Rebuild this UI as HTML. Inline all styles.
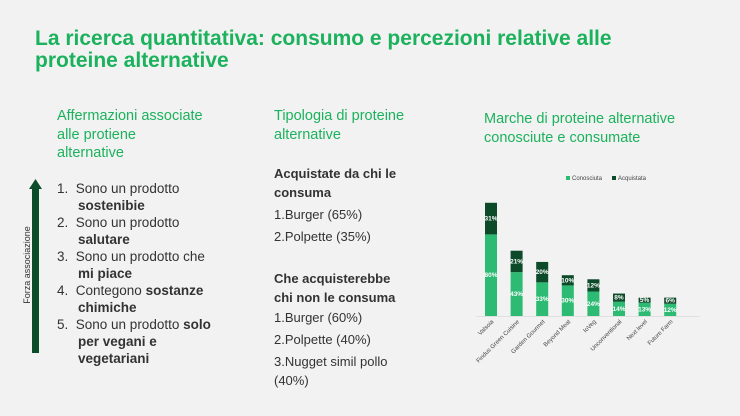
<!DOCTYPE html>
<html><head><meta charset="utf-8"><style>
body{margin:0;width:740px;height:416px;background:#f2f2f2;font-family:"Liberation Sans","DejaVu Sans",sans-serif;position:relative;overflow:hidden}
.a{position:absolute;white-space:nowrap}
.t{color:#1cb25d;font-weight:bold;font-size:21px;left:35px;line-height:22px}
.g{color:#1cb25d;font-size:14.5px;line-height:18.5px}
.k{color:#333;font-size:13.5px;line-height:17px}
.m{color:#333;font-size:13px;line-height:19px}
</style></head><body>
<div class="a t" style="top:28px">La ricerca quantitativa: consumo e percezioni relative alle<br>proteine alternative</div>
<div class="a g" style="left:57px;top:107px">Affermazioni associate<br>alle protiene<br>alternative</div>
<div class="a k" style="left:57px;top:180px">
<div>1.&nbsp;&nbsp;Sono un prodotto<br><span style="margin-left:21px;font-weight:bold">sostenibie</span></div>
<div>2.&nbsp;&nbsp;Sono un prodotto<br><span style="margin-left:21px;font-weight:bold">salutare</span></div>
<div>3.&nbsp;&nbsp;Sono un prodotto che<br><span style="margin-left:21px;font-weight:bold">mi piace</span></div>
<div>4.&nbsp;&nbsp;Contegono <b>sostanze</b><br><span style="margin-left:21px;font-weight:bold">chimiche</span></div>
<div>5.&nbsp;&nbsp;Sono un prodotto <b>solo</b><br><span style="margin-left:21px;font-weight:bold">per vegani e</span><br><span style="margin-left:21px;font-weight:bold">vegetariani</span></div>
</div>
<svg class="a" style="left:0;top:0" width="740" height="416">
<rect x="32" y="188" width="7" height="165" fill="#0b4d2a"/>
<polygon points="29,189 35.5,179 42,189" fill="#0b4d2a"/>
<text transform="translate(30,265) rotate(-90)" text-anchor="middle" font-size="9" fill="#333" font-family="Liberation Sans,sans-serif">Forza associazione</text>
</svg>
<div class="a g" style="left:274px;top:107px">Tipologia di proteine<br>alternative</div>
<div class="a m" style="left:274px;top:164px">
<b>Acquistate da chi le<br>consuma</b><div style="height:3px"></div>1.Burger (65%)<div style="height:3px"></div>2.Polpette (35%)<div style="height:23px"></div>
<b>Che acquisterebbe<br>chi non le consuma</b><div style="height:1px"></div>1.Burger (60%)<div style="height:3px"></div>2.Polpette (40%)<div style="height:3px"></div>3.Nugget simil pollo<br>(40%)</div>
<div class="a g" style="left:484px;top:110px">Marche di proteine alternative<br>conosciute e consumate</div>
<svg id="ch" class="a" style="left:0;top:0" width="740" height="416"></svg>
<script>
const brands=["Valsoia","Findus Green Cuisine","Garden Gourmet","Beyond Meat","IoVeg","Unconventional","Next level","Future Farm"];
const known=[80,43,33,30,24,14,13,12];
const bought=[31,21,20,10,12,8,5,6];
const svg=document.getElementById('ch');const NS='http://www.w3.org/2000/svg';
const base=316,k=1.02,x0=491,step=25.6,w=12;
const y=v=>v*k;
function el(t,a,p){const e=document.createElementNS(NS,t);for(const n in a)e.setAttribute(n,a[n]);(p||svg).appendChild(e);return e}
const ax=el('line',{x1:476,x2:700,y1:base+0.5,y2:base+0.5,stroke:'#e0e0e0'});


brands.forEach((b,i)=>{const cx=x0+i*step;
const h1=y(known[i]),h2=y(bought[i]);
const r1=el('rect',{x:cx-w/2,y:base-h1,width:w,height:h1,fill:'#2dba73'});


const r2=el('rect',{x:cx-w/2,y:base-h1-h2,width:w,height:h2,fill:'#0c4a2a'});


const l1=el('text',{x:cx,y:base-h1/2+2,'text-anchor':'middle','font-size':6.5,fill:'#fff','font-weight':'bold'});l1.textContent=known[i]+'%';


const l2=el('text',{x:cx,y:base-h1-h2/2+2,'text-anchor':'middle','font-size':6.5,fill:'#fff','font-weight':'bold'});l2.textContent=bought[i]+'%';


const xl=el('text',{transform:`translate(${cx+3},${base+6}) rotate(-45)`,'text-anchor':'end','font-size':6,fill:'#444'});xl.textContent=b;


});
const lg=el('g',{});


el('rect',{x:566,y:176,width:4,height:4,fill:'#2dba73'},lg);
el('text',{x:572,y:180,'font-size':6,fill:'#444'},lg).textContent='Conosciuta';
el('rect',{x:612,y:176,width:4,height:4,fill:'#0c4a2a'},lg);
el('text',{x:618,y:180,'font-size':6,fill:'#444'},lg).textContent='Acquistata';
</script>
</body></html>
